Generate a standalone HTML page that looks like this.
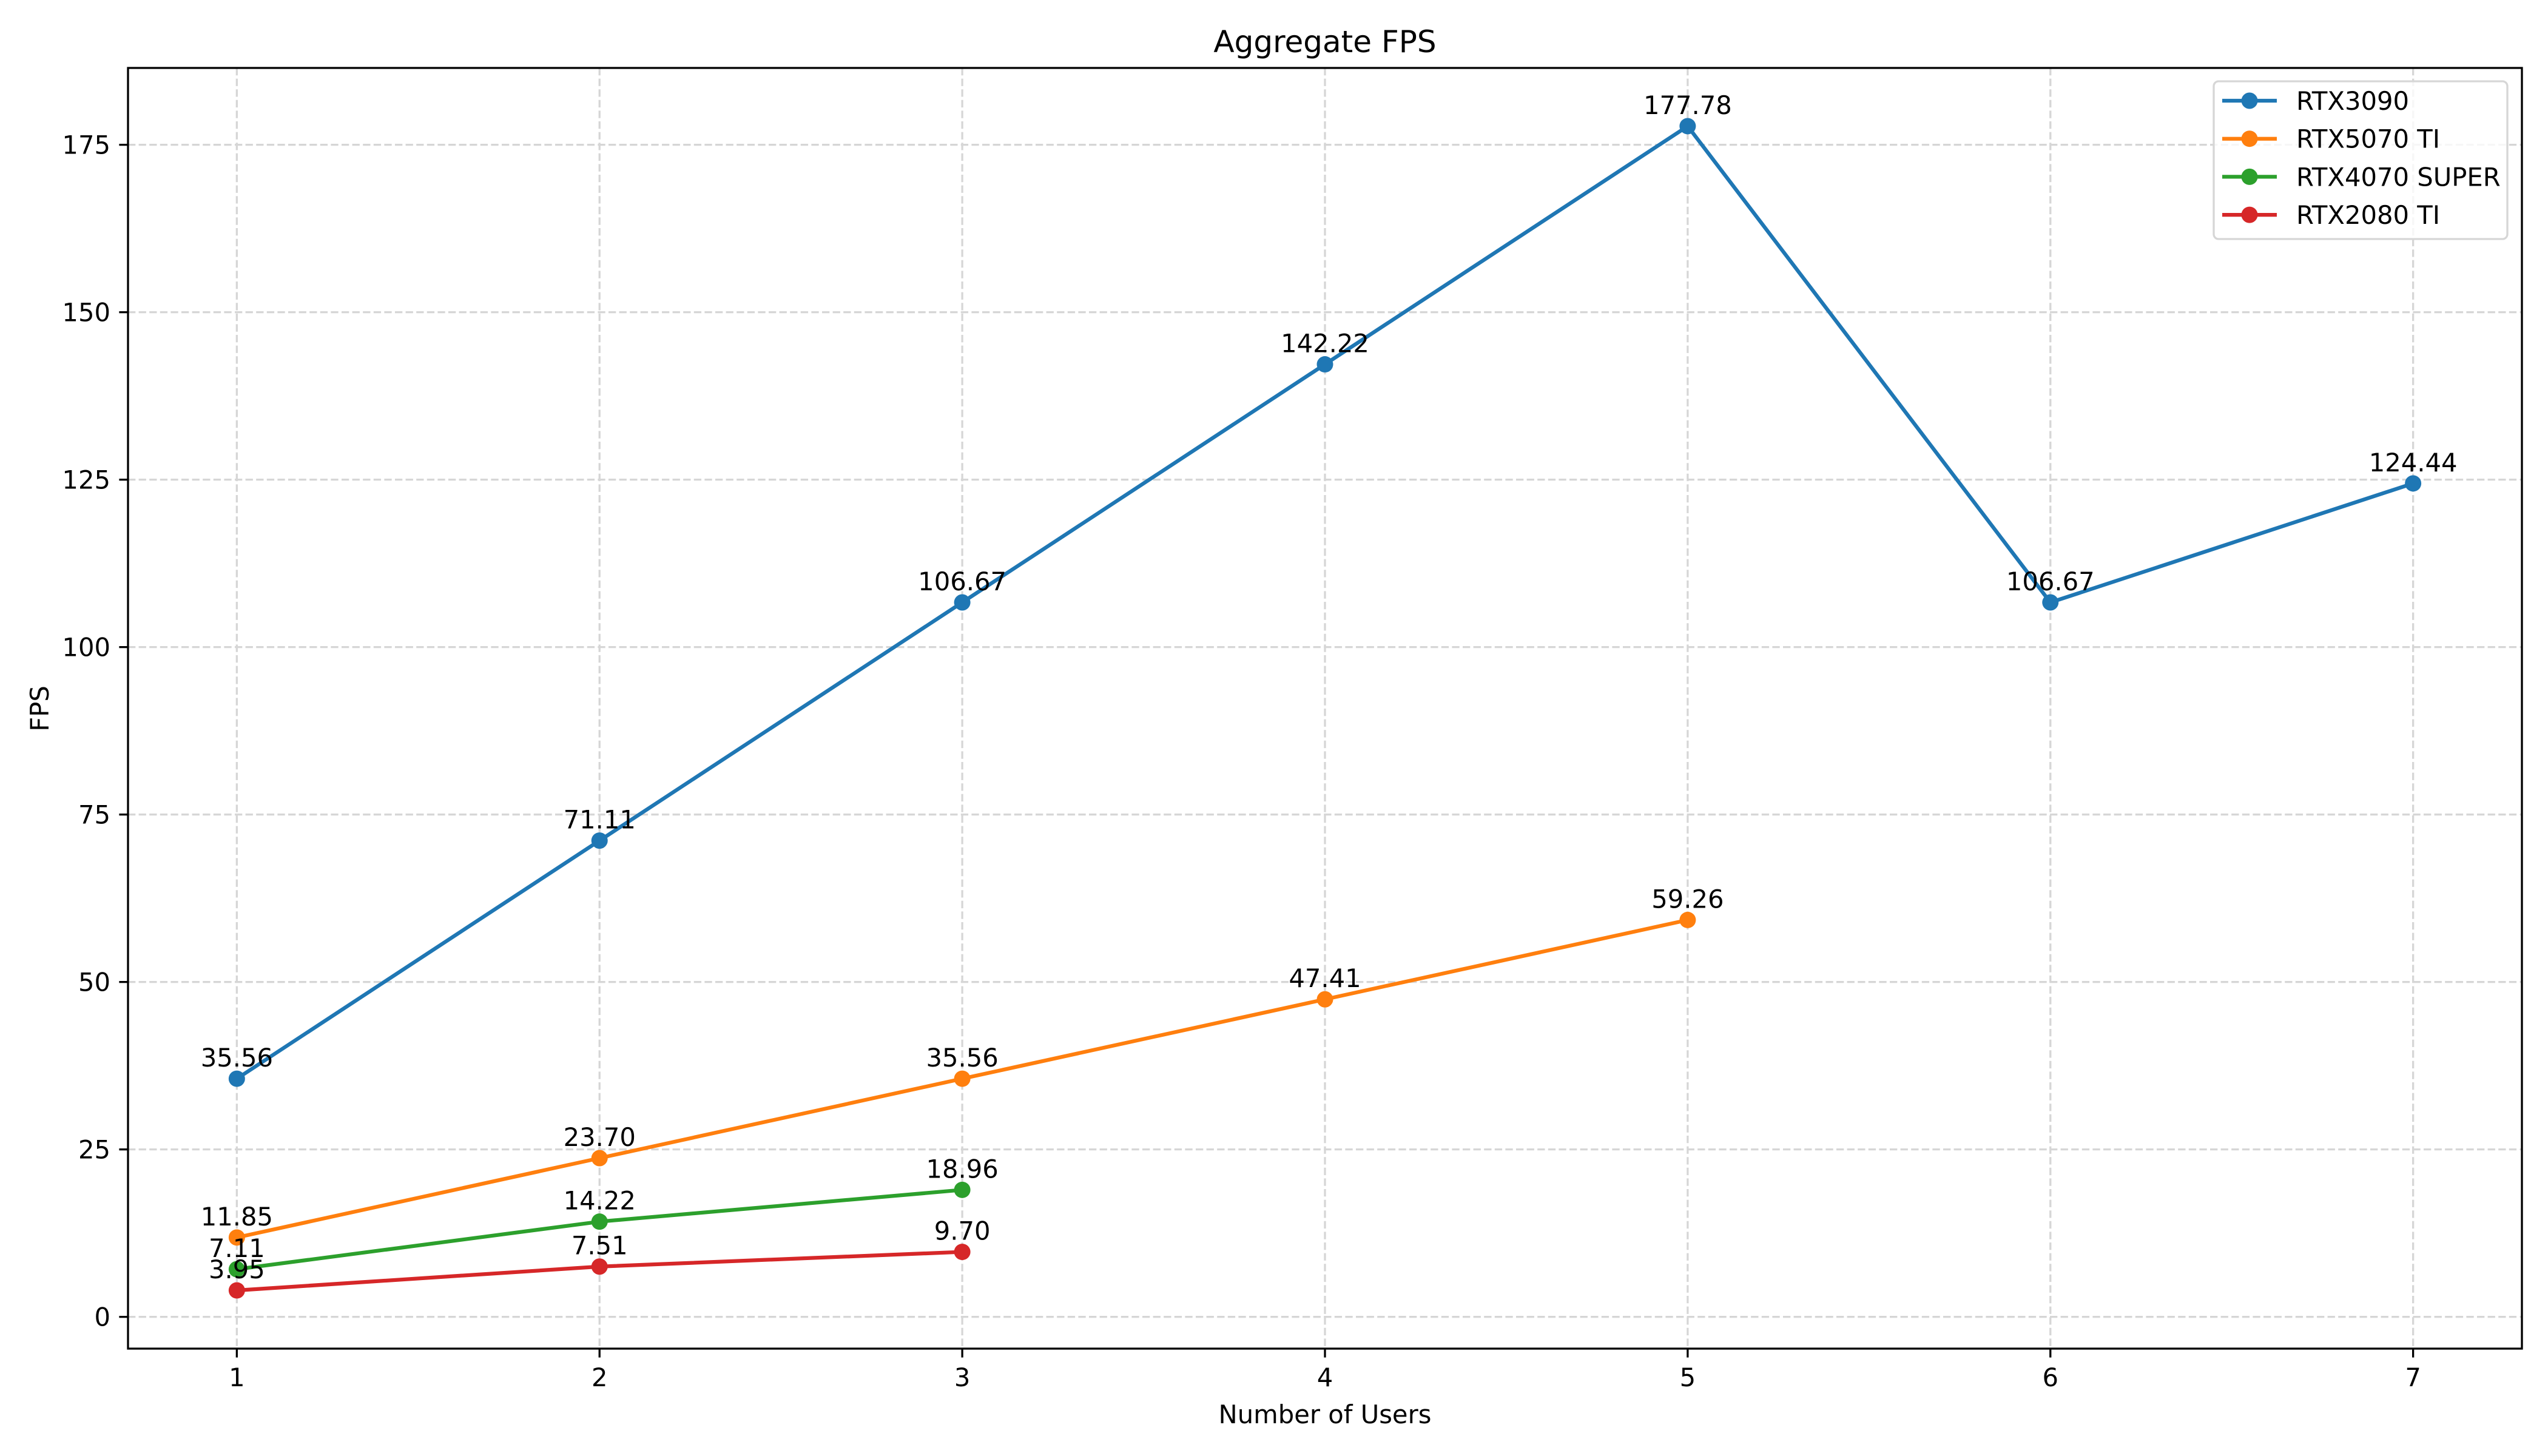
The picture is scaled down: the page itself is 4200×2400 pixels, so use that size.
<!DOCTYPE html>
<html><head><meta charset="utf-8"><style>
body{margin:0;background:#fff}
svg{display:block;font-family:"DejaVu Sans","Liberation Sans",sans-serif}
</style></head><body>
<svg id="chart" width="4200" height="2400" viewBox="0 0 4200 2400" xmlns="http://www.w3.org/2000/svg">
<rect width="4200" height="2400" fill="#fff"/>
<g id="grid"></g>
<g id="axes"></g>
<g id="series"></g>
<text x="2184" y="86" font-size="50" text-anchor="middle">Aggregate FPS</text>
<text x="2184" y="2346" font-size="41.7" text-anchor="middle">Number of Users</text>
<text x="0" y="0" font-size="41.7" text-anchor="middle" transform="translate(80,1168) rotate(-90)">FPS</text>
<g id="legend"></g>
</svg>
<script>
const xCategories = [1,2,3,4,5,6,7];
const seriesNames = ["RTX3090","RTX5070 TI","RTX4070 SUPER","RTX2080 TI"];
const seriesColors = ["#1f77b4","#ff7f0e","#2ca02c","#d62728"];
const rtx3090 = [35.56,71.11,106.67,142.22,177.78,106.67,124.44];
const rtx5070ti = [11.85,23.70,35.56,47.41,59.26];
const rtx4070super = [7.11,14.22,18.96];
const rtx2080ti = [3.95,7.51,9.70];
const yTicks = [0,25,50,75,100,125,150,175];

const NS="http://www.w3.org/2000/svg";
const L=211,R=4157,T=112,B=2223;
const allSeries=[rtx3090,rtx5070ti,rtx4070super,rtx2080ti];
const allVals=allSeries.flat();
const ymin0=Math.min(...allVals),ymax0=Math.max(...allVals),yr=ymax0-ymin0;
const yLo=ymin0-0.05*yr,yHi=ymax0+0.05*yr;
const xLo=0.7,xHi=7.3;
const xs=v=>L+(v-xLo)/(xHi-xLo)*(R-L);
const ys=v=>B-(v-yLo)/(yHi-yLo)*(B-T);
function mk(tag,attrs,parent){const e=document.createElementNS(NS,tag);for(const k in attrs)e.setAttribute(k,attrs[k]);parent.appendChild(e);return e;}
const grid=document.getElementById('grid'),axes=document.getElementById('axes'),ser=document.getElementById('series'),leg=document.getElementById('legend');
xCategories.forEach(c=>{
  const g=mk('line',{x1:xs(c),x2:xs(c),y1:T,y2:B,stroke:'#d6d6d6','stroke-width':3.3,'stroke-dasharray':'12.3 5.3'},grid);
  
  
  const t=mk('line',{x1:xs(c),x2:xs(c),y1:B,y2:B+14.6,stroke:'#000','stroke-width':3.3},axes);
  
  
  const l=mk('text',{x:xs(c),y:B+62,'font-size':41.7,'text-anchor':'middle'},axes);
  l.textContent=c;
  
  
});
yTicks.forEach(v=>{
  const g=mk('line',{x1:L,x2:R,y1:ys(v),y2:ys(v),stroke:'#d6d6d6','stroke-width':3.3,'stroke-dasharray':'12.3 5.3'},grid);
  
  
  const t=mk('line',{x1:L-14.6,x2:L,y1:ys(v),y2:ys(v),stroke:'#000','stroke-width':3.3},axes);
  
  
  const l=mk('text',{x:L-29,y:ys(v)+15,'font-size':41.7,'text-anchor':'end'},axes);
  l.textContent=v;
  
  
});
const frame=mk('rect',{x:L,y:T,width:R-L,height:B-T,fill:'none',stroke:'#000','stroke-width':3.3},axes);


allSeries.forEach((vals,si)=>{
  const col=seriesColors[si];
  const pts=vals.map((v,i)=>xs(xCategories[i])+','+ys(v)).join(' ');
  const pl=mk('polyline',{points:pts,fill:'none',stroke:col,'stroke-width':6.25,'stroke-linejoin':'round','stroke-linecap':'square'},ser);
  
  
  vals.forEach((v,i)=>{
    const c=mk('circle',{cx:xs(xCategories[i]),cy:ys(v),r:13.5,fill:col},ser);
    
    
  });
});
allSeries.forEach((vals,si)=>{
  vals.forEach((v,i)=>{
    const t=mk('text',{x:xs(xCategories[i]),y:ys(v)-20,'font-size':41.7,'text-anchor':'middle'},ser);
    t.textContent=v.toFixed(2);
    
    
  });
});
const box=mk('rect',{x:3649,y:134,width:484,height:260,rx:8,fill:'#fff','fill-opacity':0.8,stroke:'#d6d6d6','stroke-width':3.3},leg);


seriesNames.forEach((n,i)=>{
  const y=166+i*62.7;
  const g=mk('g',{},leg);
  
  
  mk('line',{x1:3663,x2:3753,y1:y,y2:y,stroke:seriesColors[i],'stroke-width':6.25},g);
  mk('circle',{cx:3708,cy:y,r:13.5,fill:seriesColors[i]},g);
  const t=mk('text',{x:3785,y:y+15,'font-size':41.7},g);
  t.textContent=n;
});
</script>
</body></html>
